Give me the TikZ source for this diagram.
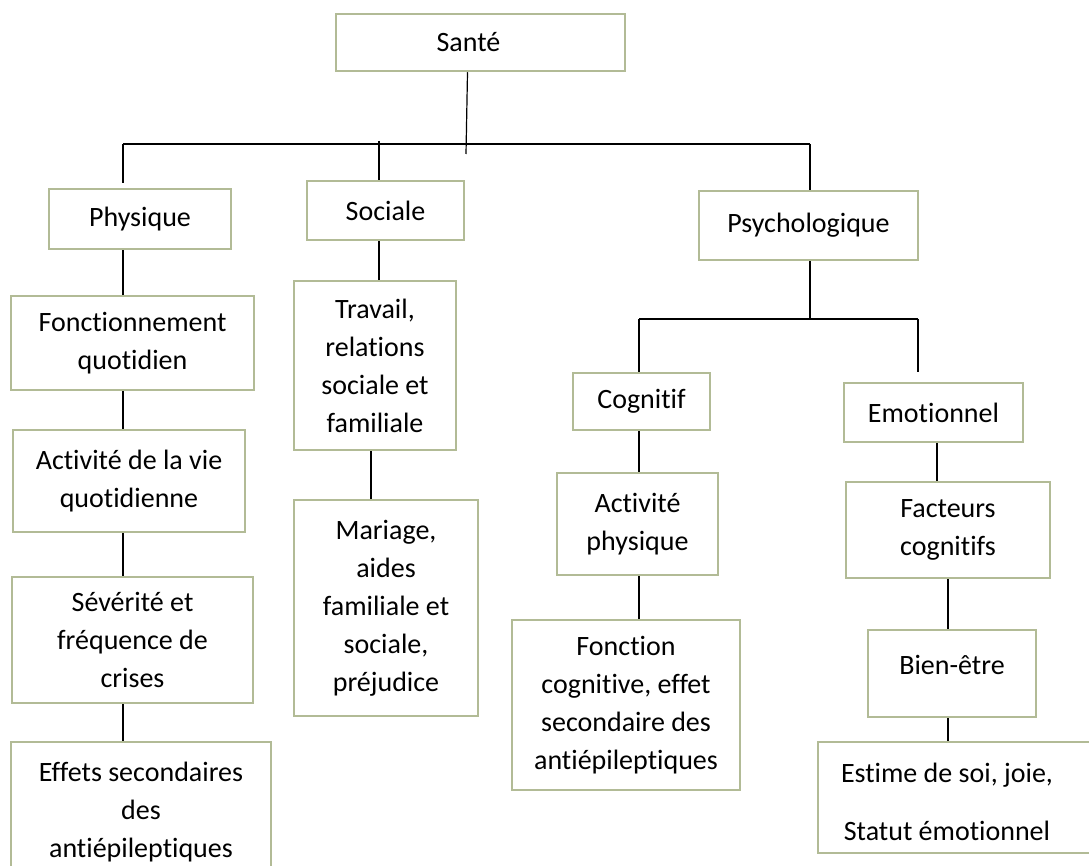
\documentclass[tikz,border=0pt]{standalone}
\usepackage{fontspec}
\setmainfont{Carlito}[Ligatures={NoCommon}]
\definecolor{boxc}{RGB}{178,187,150}
\newcommand\diagfont{\fontsize{28pt}{38pt}\selectfont}
\tikzset{
  box/.style={draw=boxc, line width=2.5pt, inner sep=0pt, align=center},
  lbl/.style={inner sep=0pt, align=center},
  conn/.style={line width=1.2pt, draw=black},
}
\begin{document}
\begin{tikzpicture}[x=1pt,y=-1pt,font=\diagfont]
\useasboundingbox (0,0) rectangle (1089,866);
\clip (0,0) rectangle (1089,866);

% boxes
\node[box, minimum width=289pt, minimum height=57pt, label={[lbl,xshift=-12pt]center:Santé}] (sante) at (480.5,42.5) {};
\node[box, minimum width=182pt, minimum height=60pt] (physique) at (140,219) {Physique};
\node[box, minimum width=157pt, minimum height=59pt] (sociale) at (385.5,210.5) {Sociale};
\node[box, minimum width=219pt, minimum height=69pt] (psycho) at (808.5,225.5) {Psychologique};

\node[box, minimum width=243pt, minimum height=94pt] (fonct) at (132.5,343) {Fonctionnement\\quotidien};
\node[box, minimum width=232pt, minimum height=102pt] (activ) at (129,481) {Activité de la vie\\quotidienne};
\node[box, minimum width=241pt, minimum height=126pt] (sever) at (132.5,640) {Sévérité et\\fréquence de\\crises};
\node[box, minimum width=260pt, minimum height=141pt] (effets) at (141,812.5) {Effets secondaires\\des\\antiépileptiques};

\node[box, minimum width=162pt, minimum height=169pt] (travail) at (375,365.5) {Travail,\\relations\\sociale et\\familiale};
\node[box, minimum width=184pt, minimum height=216pt] (mariage) at (386,608) {Mariage,\\aides\\familiale et\\sociale,\\préjudice};

\node[box, minimum width=137pt, minimum height=57pt] (cognitif) at (641.5,401.5) {Cognitif};
\node[box, minimum width=179pt, minimum height=59pt] (emotion) at (933.5,412.5) {Emotionnel};
\node[box, minimum width=161pt, minimum height=102pt] (actphys) at (637.5,524) {Activité\\physique};
\node[box, minimum width=204pt, minimum height=96pt] (facteurs) at (948,530) {Facteurs\\cognitifs};
\node[box, minimum width=228pt, minimum height=170pt] (fonction) at (626,705) {Fonction\\cognitive, effet\\secondaire des\\antiépileptiques};
\node[box, minimum width=168pt, minimum height=87pt, label={[lbl,yshift=9pt]center:Bien-être}] (bienetre) at (952,673.5) {};
\node[box, minimum width=482pt, minimum height=111pt, label={[lbl,xshift=-112pt,yshift=-4pt]center:Estime de soi, joie,\\[20pt]Statut émotionnel}] (estime) at (1059,797.5) {};

% connector coordinates
\coordinate (barL) at (123,144);
\coordinate (barR) at (810,144);
\coordinate (santeEnd) at (466,154);
\coordinate (socTop) at (379,141);
\coordinate (colP) at (123,0);
\coordinate (colS) at (379,0);
\coordinate (colT) at (371,0);
\coordinate (colPs) at (810,0);
\coordinate (subL) at (639,319);
\coordinate (subR) at (918,319);
\coordinate (colC) at (639,0);
\coordinate (colE) at (937,0);
\coordinate (colF) at (948,0);

% top level
\draw[conn] ([xshift=-13pt]sante.south) -- (santeEnd);
\draw[conn] (barL) -- (barR);
\draw[conn] (barL) -- ([yshift=5pt]physique.north -| barL);
\draw[conn] (socTop) -- (sociale.north -| socTop);
\draw[conn] (barR) -- (psycho.north -| barR);

% physique column
\draw[conn] (physique.south -| colP) -- (fonct.north -| colP);
\draw[conn] (fonct.south -| colP) -- (activ.north -| colP);
\draw[conn] (activ.south -| colP) -- (sever.north -| colP);
\draw[conn] (sever.south -| colP) -- (effets.north -| colP);

% sociale column
\draw[conn] (sociale.south -| colS) -- (travail.north -| colS);
\draw[conn] (travail.south -| colT) -- (mariage.north -| colT);

% psychologique
\draw[conn] (psycho.south -| colPs) -- (colPs |- subL);
\draw[conn] (subL) -- (subR);
\draw[conn] (subL) -- (cognitif.north -| subL);
\draw[conn] (subR) -- ([yshift=10pt]emotion.north -| subR);
\draw[conn] (cognitif.south -| colC) -- (actphys.north -| colC);
\draw[conn] (actphys.south -| colC) -- (fonction.north -| colC);
\draw[conn] (emotion.south -| colE) -- (facteurs.north -| colE);
\draw[conn] (facteurs.south -| colF) -- (bienetre.north -| colF);
\draw[conn] (bienetre.south -| colF) -- (estime.north -| colF);
\end{tikzpicture}
\end{document}
